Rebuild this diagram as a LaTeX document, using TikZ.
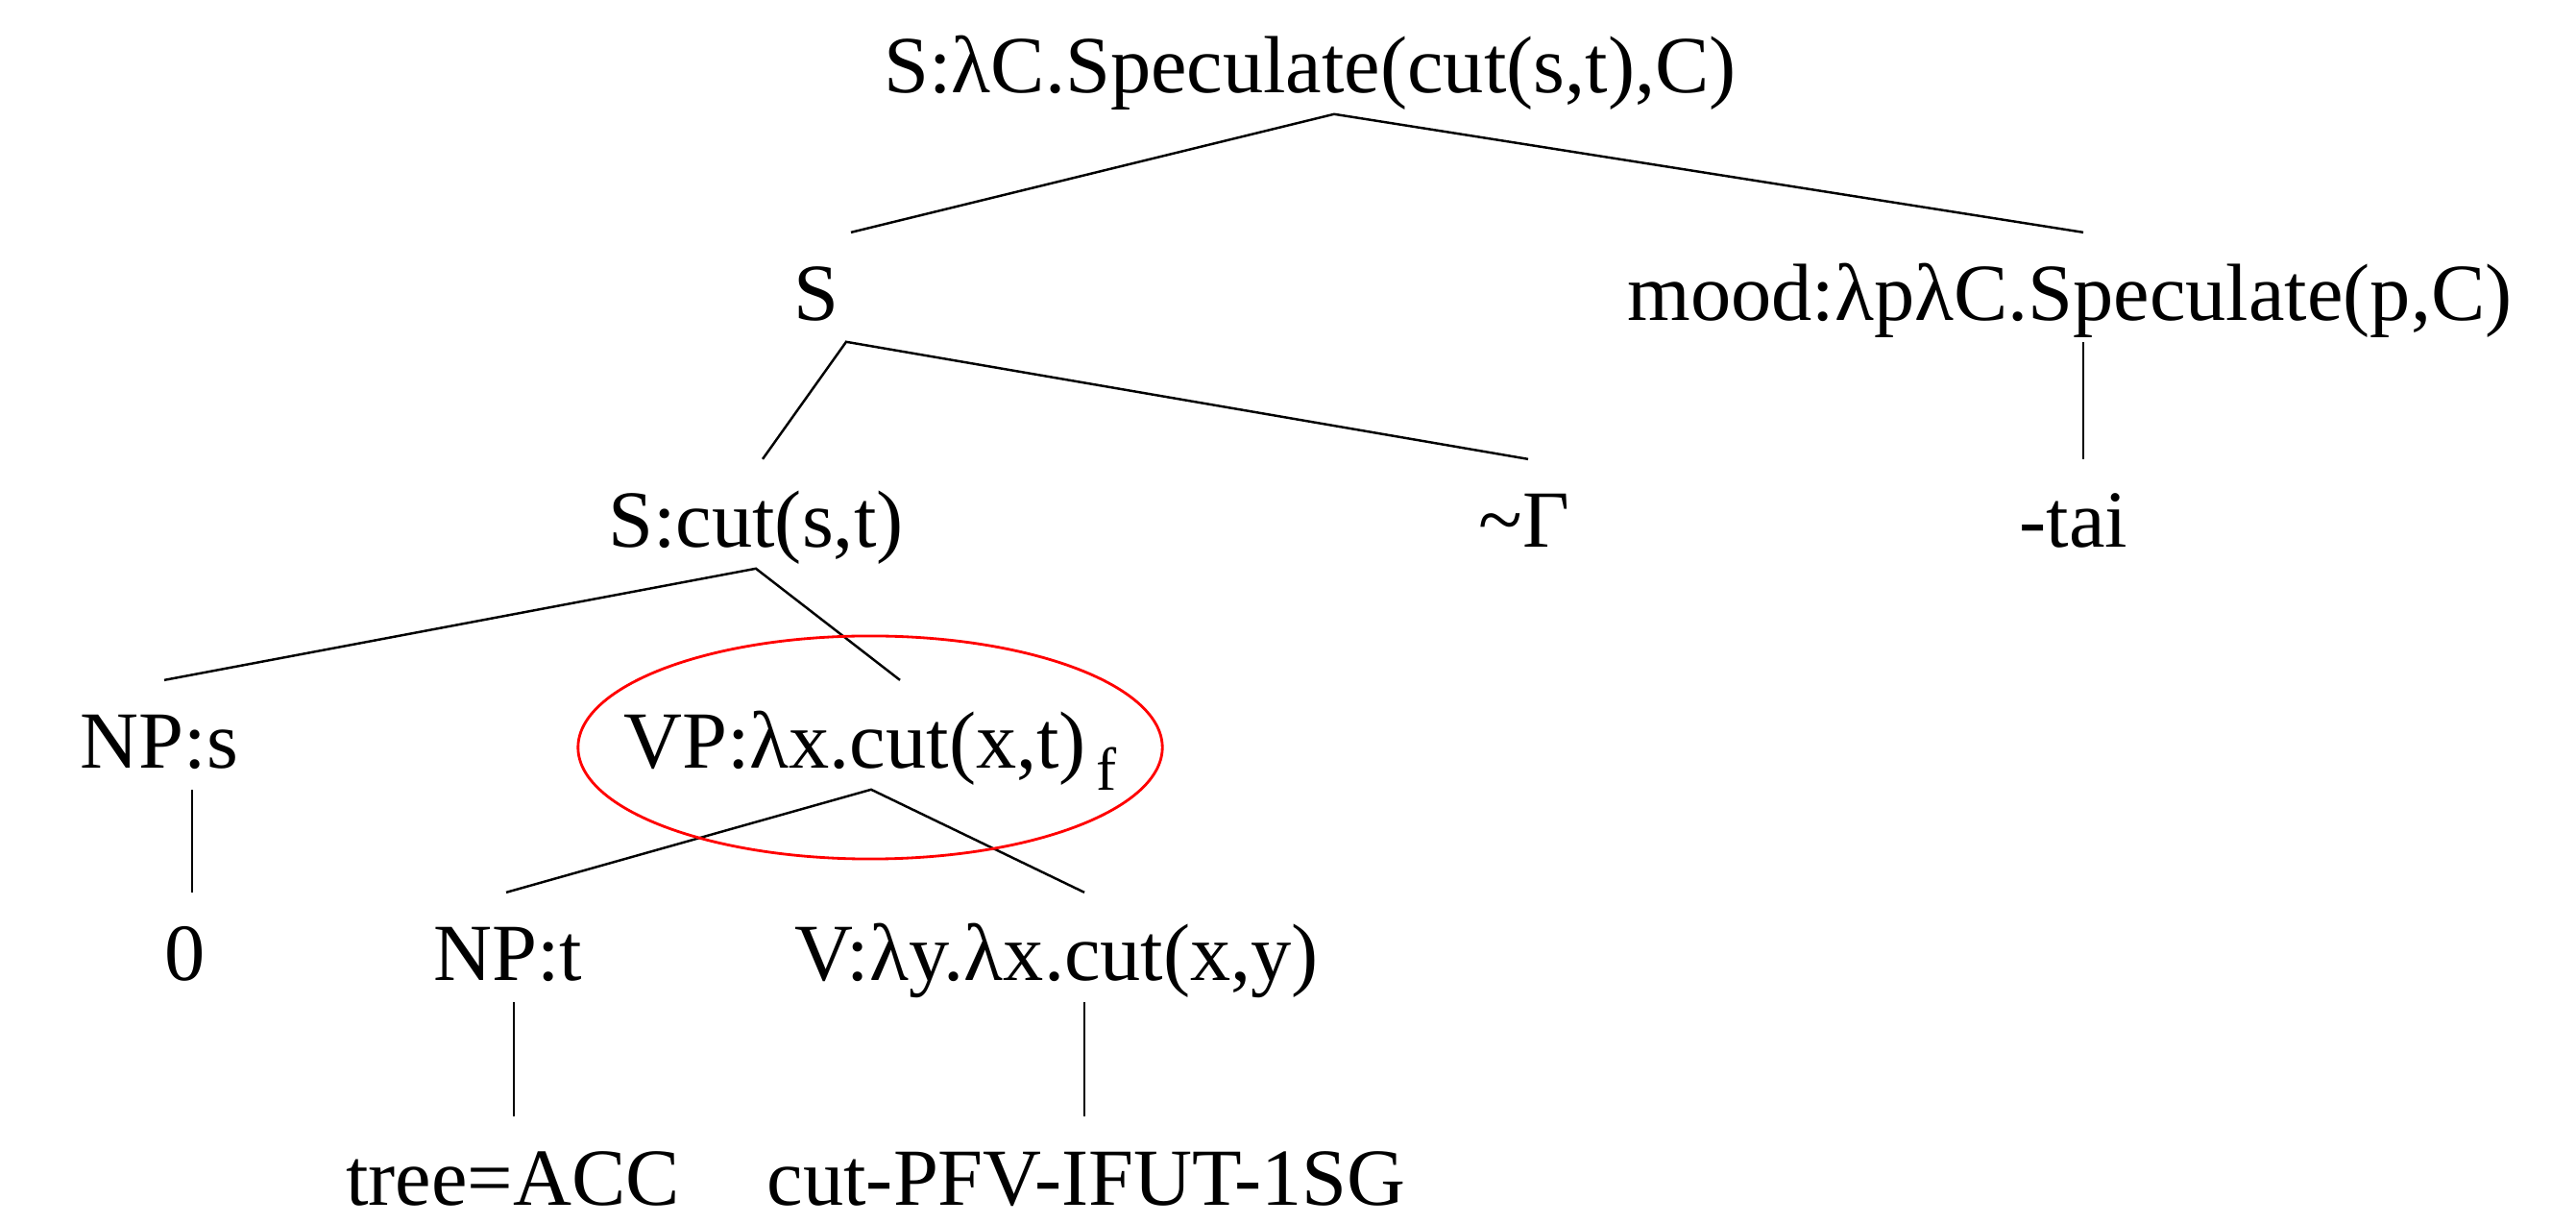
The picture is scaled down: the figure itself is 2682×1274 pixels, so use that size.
\documentclass[tikz,border=0pt]{standalone}
\usepackage{fontspec}
\setmainfont{Liberation Serif}
\usetikzlibrary{calc}

\begin{document}
\begin{tikzpicture}[x=0.01cm,y=-0.01cm,
  lbl/.style={anchor=base,font=\fontsize{24}{28}\selectfont,inner xsep=0pt,inner ysep=6pt,text height=20pt,text depth=0pt},
  branch/.style={line width=0.7pt},
  ring/.style={red,line width=0.8pt}]
  \useasboundingbox (0,0) rectangle (2682,1274);
  % labels, row by row
  \node[lbl] (top) at (1364,97) {S:λC.Speculate(cut(s,t),C)};
  \node[lbl] (s) at (850,334) {S};
  \node[lbl] (mood) at (2155,334) {mood:λpλC.Speculate(p,C)};
  \node[lbl] (scut) at (787,570) {S:cut(s,t)};
  \node[lbl] (tilde) at (1587,570) {\textasciitilde Γ};
  \node[lbl] (tai) at (2159,570) {-tai};
  \node[lbl] (nps) at (166,800) {NP:s};
  \node[lbl] (vp) at (906,800) {VP:λx.cut(x,t)\kern3pt\raisebox{-6.5pt}{\fontsize{18}{20}\selectfont f}};
  \node[lbl] (zero) at (193,1021) {0};
  \node[lbl] (npt) at (529,1021) {NP:t};
  \node[lbl] (v) at (1100,1021) {V:λy.λx.cut(x,y)};
  \node[lbl] (tree) at (534,1254) {tree=ACC};
  \node[lbl] (cutpfv) at (1131,1254) {cut-PFV-IFUT-1SG};
  % branches
  \draw[branch] ($(s.north)+(36,0)$) -- ($(top.south)+(25,0)$) -- ($(mood.north)+(14,0)$);
  \draw[branch] ($(scut.north)+(7,0)$) -- ($(s.south)+(31,0)$) -- ($(tilde.north)+(4,0)$);
  \draw[branch] ($(mood.south)+(14,0)$) -- ($(tai.north)+(10,0)$);
  \draw[branch] ($(nps.north)+(5,0)$) -- (scut.south) -- ($(vp.north)+(31,0)$);
  \draw[branch] ($(nps.south)+(34,0)$) -- ($(zero.north)+(7,0)$);
  \draw[branch] ($(npt.north)+(-2,0)$) -- ($(vp.south)+(1,0)$) -- ($(v.north)+(29,0)$);
  \draw[branch] ($(npt.south)+(6,0)$) -- ($(tree.north)+(1,0)$);
  \draw[branch] ($(v.south)+(29,0)$) -- ($(cutpfv.north)+(-2,0)$);
  % focus ring
  \draw[ring] ($(vp.base)+(0,-22)$) ellipse [x radius=3.04cm,y radius=1.16cm];
\end{tikzpicture}
\end{document}
